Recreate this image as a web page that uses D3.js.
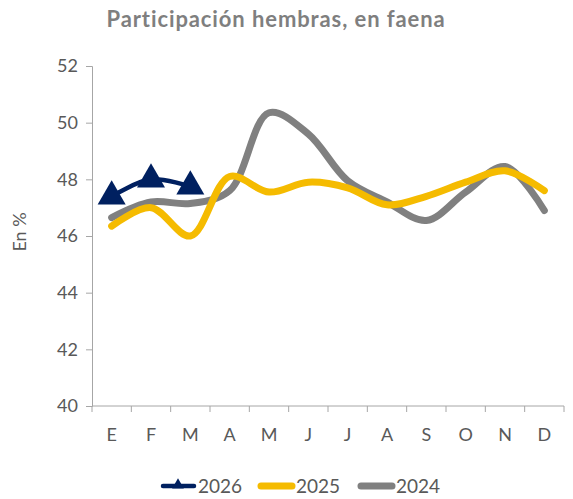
<html>
<head>
<script src="https://d3js.org/d3.v7.min.js"></script>
<style>
  body { margin: 0; background: #fff; }
  .axis path, .axis line { stroke: #a6a6a6; }
  .axis text { fill: #595959; font-family: Lato, sans-serif; font-size: 18px; }
</style>
</head>
<body>
<div id="chart"></div>
<script>
const months = ["E", "F", "M", "A", "M", "J", "J", "A", "S", "O", "N", "D"];
const yTicks = [40, 42, 44, 46, 48, 50, 52];
const s2026 = [47.4, 48.0, 47.75];
const s2025 = [46.35, 47.0, 46.0, 48.1, 47.55, 47.9, 47.7, 47.1, 47.4, 47.9, 48.3, 47.6];
const s2024 = [46.65, 47.2, 47.15, 47.6, 50.35, 49.6, 47.95, 47.2, 46.55, 47.55, 48.45, 46.9];

const width = 573, height = 499;
const margins = {top: 66, right: 9, bottom: 93, left: 92};
const chartWidth = width - margins.left - margins.right;
const chartHeight = height - margins.top - margins.bottom;

let svg = d3.select("#chart").append("svg")
  .attr("width", width).attr("height", height);

// title
svg.append("text")
  .attr("x", 276).attr("y", 27)
  .attr("text-anchor", "middle")
  .style("font-family", "Lato, sans-serif")
  .style("font-weight", "bold")
  .style("font-size", "22px")
  .style("letter-spacing", "0.9px")
  .style("fill", "#7f7f7f")
  .text("Participación hembras, en faena");

let xBand = d3.scaleBand().domain(d3.range(12)).range([0, chartWidth]);
let xPos = i => xBand(i) + xBand.bandwidth() / 2;
let yScale = d3.scaleLinear().domain([40, 52]).range([chartHeight, 0]);

let chartArea = svg.append("g")
  .attr("transform", `translate(${margins.left}, ${margins.top})`);

// y axis
let leftAxis = d3.axisLeft(yScale).tickValues(yTicks).tickSize(6).tickPadding(8);
chartArea.append("g").attr("class", "axis").call(leftAxis);

// x axis with ticks at category boundaries
let bottom = chartArea.append("g").attr("class", "axis")
  .attr("transform", `translate(0, ${chartHeight})`);
bottom.append("line").attr("x1", 0).attr("x2", chartWidth);
bottom.selectAll("line.tk").data(d3.range(13)).join("line")
  .attr("class", "tk")
  .attr("x1", i => i * xBand.step()).attr("x2", i => i * xBand.step())
  .attr("y1", 0).attr("y2", 6);
bottom.selectAll("text").data(months).join("text")
  .attr("x", (d, i) => xPos(i))
  .attr("y", 35)
  .attr("text-anchor", "middle")
  .text(d => d);

// y axis title
svg.append("text")
  .attr("transform", "translate(26, 232) rotate(-90)")
  .attr("text-anchor", "middle")
  .style("font-family", "Lato, sans-serif")
  .style("font-size", "18px")
  .style("fill", "#595959")
  .text("En %");

let lineGen = d3.line()
  .x((d, i) => xPos(i))
  .y(d => yScale(d))
  .curve(d3.curveCatmullRom.alpha(0.5));

const series = [
  {name: "2024", values: s2024, color: "#808080", w: 7},
  {name: "2025", values: s2025, color: "#f5bb00", w: 7},
  {name: "2026", values: s2026, color: "#002060", w: 4.5}
];

series.forEach(s => {
  chartArea.append("path")
    .datum(s.values)
    .attr("fill", "none")
    .attr("stroke", s.color)
    .attr("stroke-width", s.w)
    .attr("stroke-linecap", "round")
    .attr("d", lineGen);
});

// triangle markers for 2026
let tri = d3.symbol().type(d3.symbolTriangle).size(340);
chartArea.selectAll("path.marker").data(s2026).join("path")
  .attr("class", "marker")
  .attr("transform", (d, i) => `translate(${xPos(i)}, ${yScale(d)})`)
  .attr("d", tri)
  .attr("fill", "#002060");

// legend
const legendItems = [
  {name: "2026", color: "#002060", w: 4.5, x: 160},
  {name: "2025", color: "#f5bb00", w: 7, x: 258},
  {name: "2024", color: "#808080", w: 7, x: 358}
];
let legend = svg.append("g").attr("transform", "translate(0, 486)");
legendItems.forEach(l => {
  legend.append("line")
    .attr("x1", l.x + 3).attr("x2", l.x + 34)
    .attr("stroke", l.color).attr("stroke-width", l.w)
    .attr("stroke-linecap", "round");
  if (l.name === "2026") {
    legend.append("path")
      .attr("transform", `translate(${l.x + 18}, -1)`)
      .attr("d", d3.symbol().type(d3.symbolTriangle).size(60))
      .attr("fill", l.color);
  }
  legend.append("text")
    .attr("x", l.x + 38).attr("y", 7)
    .style("font-family", "Lato, sans-serif")
    .style("font-size", "19px")
    .style("fill", "#595959")
    .text(l.name);
});
</script>
</body>
</html>
